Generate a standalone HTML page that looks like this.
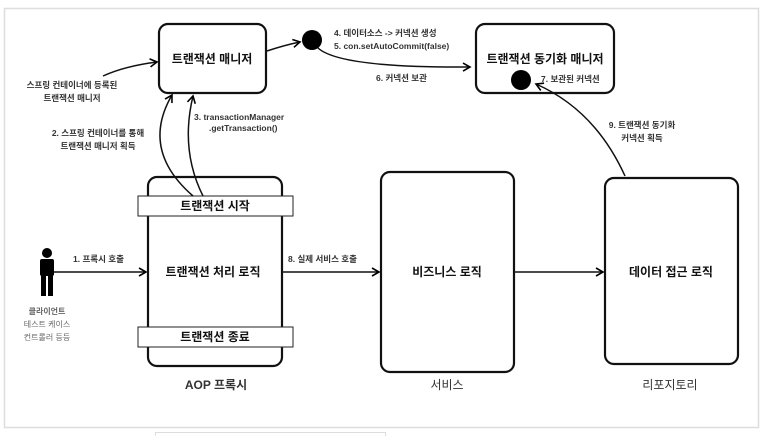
<!DOCTYPE html>
<html><head><meta charset="utf-8"><style>
body{margin:0;background:#fff}
text{font-family:"Liberation Sans","Noto Sans CJK KR",sans-serif}
</style></head><body>
<svg width="766" height="436" xmlns="http://www.w3.org/2000/svg">
<defs><marker id="a" markerWidth="10" markerHeight="10" refX="8" refY="5" orient="auto" markerUnits="userSpaceOnUse"><path d="M1,1 L8,5 L1,9" fill="none" stroke="#000" stroke-width="1.6"/></marker></defs>
<rect x="4.5" y="8.5" width="754" height="419" fill="#fff" stroke="#ddd" stroke-width="1.5"/>
<rect x="155.5" y="432.5" width="230" height="10" fill="#fff" stroke="#ddd"/>
<g fill="none" stroke="#111" stroke-width="2.2">
<rect x="159" y="24" width="107" height="69" rx="9"/>
<rect x="476" y="24" width="138" height="69" rx="9"/>
<rect x="148" y="177" width="134" height="189" rx="9"/>
<rect x="381" y="172" width="133" height="200" rx="9"/>
<rect x="605" y="178" width="133" height="186" rx="9"/>
</g>
<rect x="138" y="196" width="155" height="20" fill="#fff" stroke="#222"/>
<rect x="138" y="327" width="155" height="20" fill="#fff" stroke="#222"/>
<circle cx="312" cy="40" r="10"/>
<circle cx="521" cy="80" r="10"/>
<g fill="none" stroke="#111" stroke-width="1.5" marker-end="url(#a)">
<path d="M103,76 Q125,66 157,62"/>
<path d="M267,51 Q285,45 300,42"/>
<path d="M318,48 Q340,68 470,67"/>
<path d="M193,196 Q140,150 172,95"/>
<path d="M203,196 Q180,150 193,96"/>
<path d="M625,176 Q595,110 536,84"/>
<path d="M54,272 L146,272"/>
<path d="M282,272 L379,272"/>
<path d="M514,272 L603,272"/>
</g>
<g fill="#000">
<circle cx="47" cy="253" r="5"/>
<rect x="40" y="259" width="14" height="17" rx="2"/>
<rect x="41" y="274" width="5" height="22"/>
<rect x="48" y="274" width="5" height="22"/>
</g>
<g font-weight="bold" font-size="12" text-anchor="middle" fill="#111">
<text x="212" y="63">트랜잭션 매니저</text>
<text x="545" y="63">트랜잭션 동기화 매니저</text>
<text x="215" y="210">트랜잭션 시작</text>
<text x="215" y="341">트랜잭션 종료</text>
<text x="213" y="276">트랜잭션 처리 로직</text>
<text x="447" y="276">비즈니스 로직</text>
<text x="671" y="276">데이터 접근 로직</text>
</g>
<g font-size="12" text-anchor="middle" fill="#333">
<text x="216" y="389" font-weight="bold">AOP 프록시</text>
<text x="447" y="389">서비스</text>
<text x="670" y="389">리포지토리</text>
</g>
<g font-size="8.5" font-weight="bold" fill="#333">
<text x="72" y="88" text-anchor="middle">스프링 컨테이너에 등록된</text>
<text x="72" y="101" text-anchor="middle">트랜잭션 매니저</text>
<text x="98" y="136" text-anchor="middle">2. 스프링 컨테이너를 통해</text>
<text x="98" y="149" text-anchor="middle">트랜잭션 매니저 획득</text>
<text x="194" y="120">3. transactionManager</text>
<text x="209" y="131">.getTransaction()</text>
<text x="334" y="36">4. 데이터소스 -&gt; 커넥션 생성</text>
<text x="334" y="49">5. con.setAutoCommit(false)</text>
<text x="376" y="81">6. 커넥션 보관</text>
<text x="541" y="82">7. 보관된 커넥션</text>
<text x="642" y="128" text-anchor="middle">9. 트랜잭션 동기화</text>
<text x="642" y="141" text-anchor="middle">커넥션 획득</text>
<text x="73" y="262">1. 프록시 호출</text>
<text x="288" y="262">8. 실제 서비스 호출</text>
</g>
<g font-size="8" fill="#666" text-anchor="middle">
<text x="47" y="314" font-weight="bold">클라이언트</text>
<text x="47" y="327">테스트 케이스</text>
<text x="47" y="340">컨트롤러 등등</text>
</g>
</svg>
</body></html>
